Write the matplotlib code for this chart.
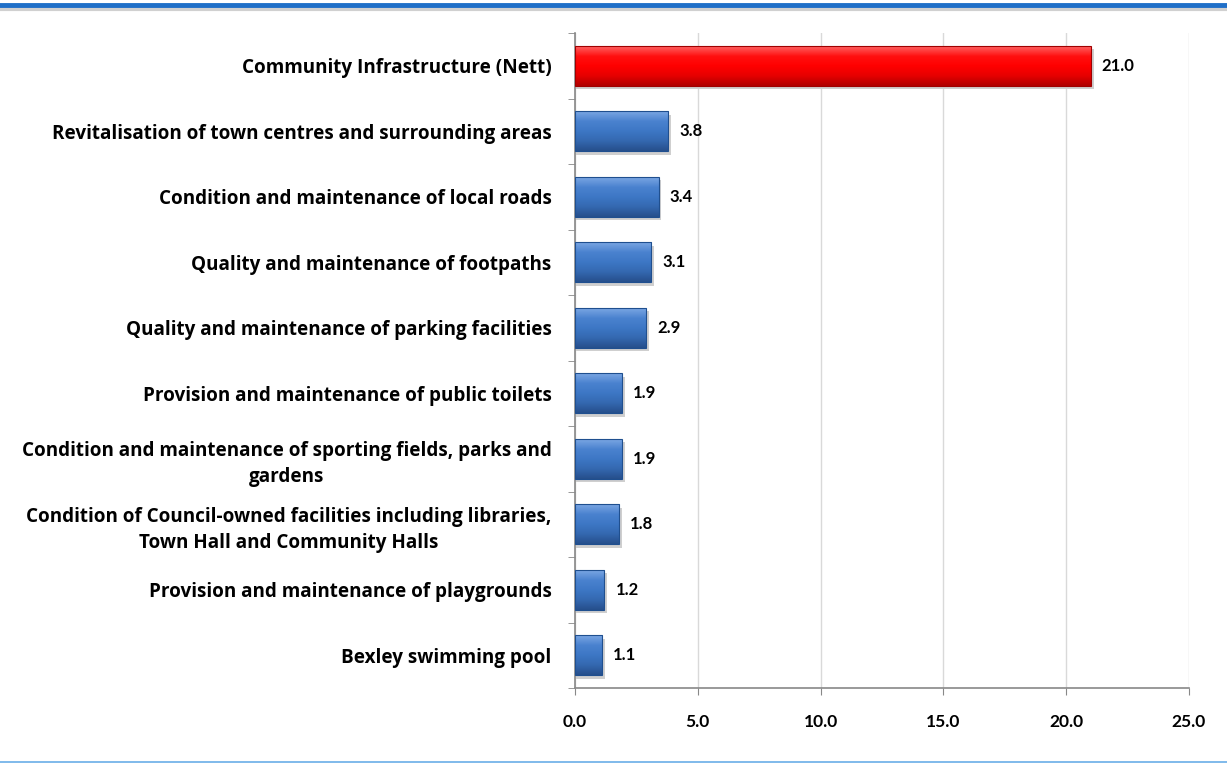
"""Horizontal bar chart: community infrastructure priorities."""

import matplotlib.pyplot as plt
import numpy as np
from matplotlib.colors import LinearSegmentedColormap
from matplotlib.lines import Line2D

categories = [
    "Community Infrastructure (Nett)",
    "Revitalisation of town centres and surrounding areas",
    "Condition and maintenance of local roads",
    "Quality and maintenance of footpaths",
    "Quality and maintenance of parking facilities",
    "Provision and maintenance of public toilets",
    "Condition and maintenance of sporting fields, parks and\ngardens",
    "Condition of Council-owned facilities including libraries,\nTown Hall and Community Halls",
    "Provision and maintenance of playgrounds",
    "Bexley swimming pool",
]
values = [21.0, 3.8, 3.4, 3.1, 2.9, 1.9, 1.9, 1.8, 1.2, 1.1]
x_ticks = [0, 5, 10, 15, 20, 25]

LABEL_FONT = "Open Sans"
NUM_FONT = "Lato"

blue_cmap = LinearSegmentedColormap.from_list(
    "bevel_blue", ["#7aa6e3", "#4a82cf", "#3d77c5", "#3468b0", "#264f8c"])
red_cmap = LinearSegmentedColormap.from_list(
    "bevel_red", ["#ff6060", "#ff1010", "#ff0000", "#e60000", "#b00000"])

fig = plt.figure(figsize=(12.27, 7.65), dpi=100)
ax = fig.add_axes([575 / 1227, 1 - 688 / 765, (1189 - 575) / 1227, (688 - 33) / 765])

y = np.arange(len(categories))
bar_h = 0.61
grad = np.linspace(0, 1, 64).reshape(-1, 1)

# soft drop shadow
ax.barh(y + 0.05, [v + 0.06 for v in values], height=bar_h, left=0.06,
        color="#cfcfcf", zorder=2)
bars = ax.barh(y, values, height=bar_h, color="none",
               edgecolor=["#a00000"] + ["#1f4f8f"] * (len(values) - 1),
               linewidth=0.8, zorder=4)
for i, (b, v) in enumerate(zip(bars, values)):
    cmap = red_cmap if i == 0 else blue_cmap
    im = ax.imshow(grad, cmap=cmap, aspect="auto", interpolation="bilinear",
                   extent=(0, v, y[i] + bar_h / 2, y[i] - bar_h / 2), zorder=3)
    im.set_clip_path(b)

for yi, v in zip(y, values):
    ax.text(v + 0.45, yi, f"{v:.1f}", va="center", ha="left", fontsize=12,
            fontweight="bold", family=NUM_FONT, color="#000000", zorder=5)

ax.set_xlim(0, 25)
ax.set_ylim(len(categories) - 0.5, -0.5)
ax.set_xticks(x_ticks)
ax.set_xticklabels([f"{t:.1f}" for t in x_ticks], fontsize=12.5, fontweight="bold",
                   family=NUM_FONT)
ax.set_yticks(y)
ax.set_yticklabels(categories, fontsize=13.6, fontweight="bold", family=LABEL_FONT,
                   linespacing=1.4, multialignment="center")
ax.set_yticks(np.arange(-0.5, len(categories)), minor=True)
ax.tick_params(axis="y", which="major", length=0, pad=17)
ax.tick_params(axis="y", which="minor", length=5, color="#888888", direction="out")
ax.tick_params(axis="x", which="major", length=5, color="#888888", pad=14)

ax.grid(axis="x", color="#d9d9d9", linewidth=1.0, zorder=0)
ax.set_axisbelow(True)
for side in ("top", "right"):
    ax.spines[side].set_visible(False)
for side in ("left", "bottom"):
    ax.spines[side].set_color("#888888")
    ax.spines[side].set_linewidth(1.2)

# header and footer rules
fig.add_artist(Line2D([0, 1], [1 - 9 / 765, 1 - 9 / 765], color="#d0d0d0", linewidth=3,
                      transform=fig.transFigure))
fig.add_artist(Line2D([0, 1], [1 - 5 / 765, 1 - 5 / 765], color="#1f6fc8", linewidth=3.5,
                      transform=fig.transFigure))
fig.add_artist(Line2D([0, 1], [1 - 762 / 765, 1 - 762 / 765], color="#6aaee8", linewidth=1.2,
                      transform=fig.transFigure))

fig.savefig("out.png", dpi=100)
